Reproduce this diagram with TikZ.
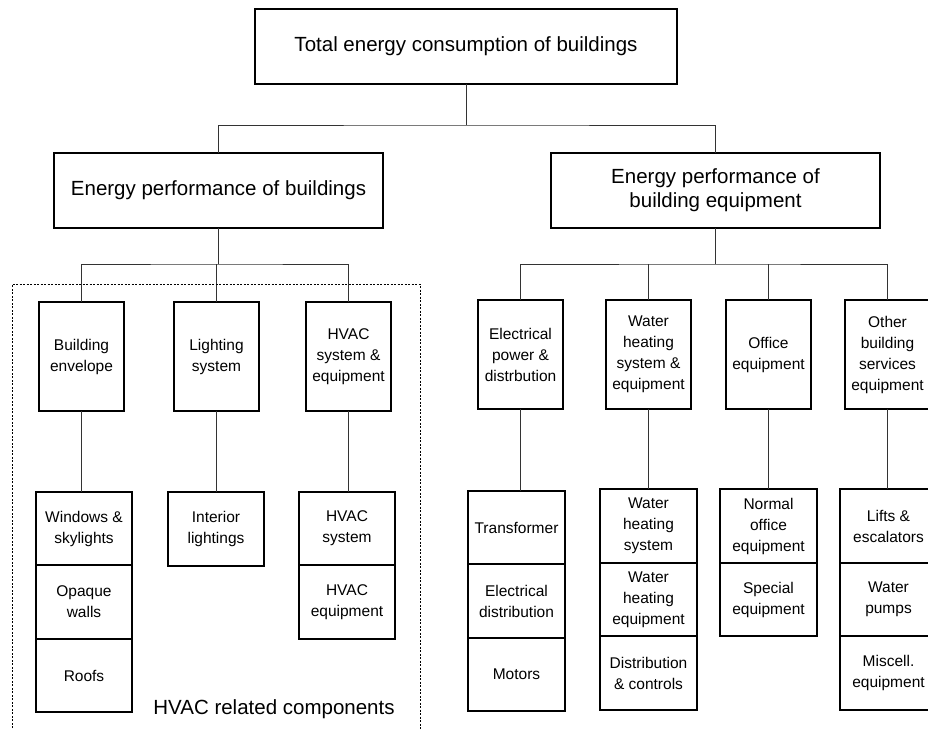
\documentclass[tikz,border=0pt]{standalone}
\usepackage{fontspec}
\setmainfont{Liberation Sans}
\begin{document}
\begin{tikzpicture}[x=1pt,y=-1pt,
  box/.style={draw=black,line width=1.8pt,inner sep=0pt,outer sep=0pt,align=center},
  bigbox/.style={box,font=\fontsize{20.5}{24}\selectfont},
  smallbox/.style={box,font=\fontsize{15.5}{21}\selectfont,minimum width=#1},
  smallbox/.default=85pt,
  conn/.style={draw=black!80,line width=1pt},
  hvacframe/.style={draw=black,line width=0.9pt,dash pattern=on 2pt off 1.5pt}]
\useasboundingbox (0,0) rectangle (928,729);
% level 1
\node[bigbox,minimum width=422pt,minimum height=75pt] (top) at (466,46.5) {Total energy consumption of buildings};
% level 2
\node[bigbox,minimum width=329pt,minimum height=75pt] (lb) at (218.5,190.5) {Energy performance of buildings};
\node[bigbox,minimum width=329pt,minimum height=75pt] (rb) at (715.5,190.5) {Energy performance of\\building equipment};
% level 3 left
\node[smallbox,minimum height=109pt] (be) at (81.5,356.5) {Building\\envelope};
\node[smallbox,minimum height=109pt] (ls) at (216.5,356.5) {Lighting\\system};
\node[smallbox,minimum height=109pt] (hv) at (348.5,356.5) {HVAC\\system \&\\equipment};
% level 3 right
\node[smallbox,minimum height=109pt] (ep) at (520.5,354.5) {Electrical\\power \&\\distrbution};
\node[smallbox,minimum height=109pt] (wh) at (648.5,354.5) {Water\\heating\\system \&\\equipment};
\node[smallbox,minimum height=109pt] (oe) at (768.5,354.5) {Office\\equipment};
\node[smallbox,minimum height=109pt] (ob) at (887.5,354.5) {Other\\building\\services\\equipment};
% level 4 left
\node[smallbox=96pt,minimum height=73.5pt] (win) at (84,528.5) {Windows \&\\skylights};
\node[smallbox=96pt,minimum height=73.5pt] (opq) at (84,602) {Opaque\\walls};
\node[smallbox=96pt,minimum height=73.5pt] (roof) at (84,675.5) {Roofs};
\node[smallbox=96pt,minimum height=74pt] (il) at (216,529) {Interior\\lightings};
\node[smallbox=96pt,minimum height=73.5pt] (hs) at (347,528.5) {HVAC\\system};
\node[smallbox=96pt,minimum height=73.5pt] (he) at (347,602) {HVAC\\equipment};
% level 4 right
\node[smallbox=97pt,minimum height=73.5pt] (tr) at (516.5,527.5) {Transformer};
\node[smallbox=97pt,minimum height=73.5pt] (ed) at (516.5,601) {Electrical\\distribution};
\node[smallbox=97pt,minimum height=73.5pt] (mo) at (516.5,674.5) {Motors};
\node[smallbox=97pt,minimum height=73.5pt] (whs) at (648.5,526) {Water\\heating\\system};
\node[smallbox=97pt,minimum height=73.5pt] (whe) at (648.5,599.5) {Water\\heating\\equipment};
\node[smallbox=97pt,minimum height=73.5pt] (dc) at (648.5,673) {Distribution\\\& controls};
\node[smallbox=97pt,minimum height=73.5pt] (noe) at (768.5,526) {Normal\\office\\equipment};
\node[smallbox=97pt,minimum height=73.5pt] (se) at (768.5,599.5) {Special\\equipment};
\node[smallbox=97pt,minimum height=73.5pt] (lf) at (888.5,526) {Lifts \&\\escalators};
\node[smallbox=97pt,minimum height=73.5pt] (wp) at (888.5,599.5) {Water\\pumps};
\node[smallbox=97pt,minimum height=73.5pt] (mi) at (888.5,673) {Miscell.\\equipment};
% junctions
\coordinate (j1) at (466,125);
\coordinate (j2) at (218.5,264);
\coordinate (j3) at (715.5,264);
% connectors
\draw[conn] (top.south) -- (j1);
\draw[conn] (lb.north) |- (j1) -| (rb.north);
\draw[conn] (lb.south) -- (j2);
\draw[conn] (be.north) |- (j2) -| (hv.north);
\draw[conn] (ls.north) -- (ls.north |- j2);
\draw[conn] (rb.south) -- (j3);
\draw[conn] (ep.north) |- (j3) -| (ob.north);
\draw[conn] (wh.north) -- (wh.north |- j3);
\draw[conn] (oe.north) -- (oe.north |- j3);
\draw[conn] (be.south) -- (be.south |- win.north);
\draw[conn] (ls.south) -- (ls.south |- il.north);
\draw[conn] (hv.south) -- (hv.south |- hs.north);
\draw[conn] (ep.south) -- (ep.south |- tr.north);
\draw[conn] (wh.south) -- (whs.north);
\draw[conn] (oe.south) -- (noe.north);
\draw[conn] (ob.south) -- (ob.south |- lf.north);
% HVAC frame
\draw[hvacframe] (12,735) -- (12,284) -- (420,284) -- (420,735);
\node[font=\fontsize{20.5}{24}\selectfont,inner sep=0pt] (hvaclabel) at (274,709) {HVAC related components};
\end{tikzpicture}
\end{document}
